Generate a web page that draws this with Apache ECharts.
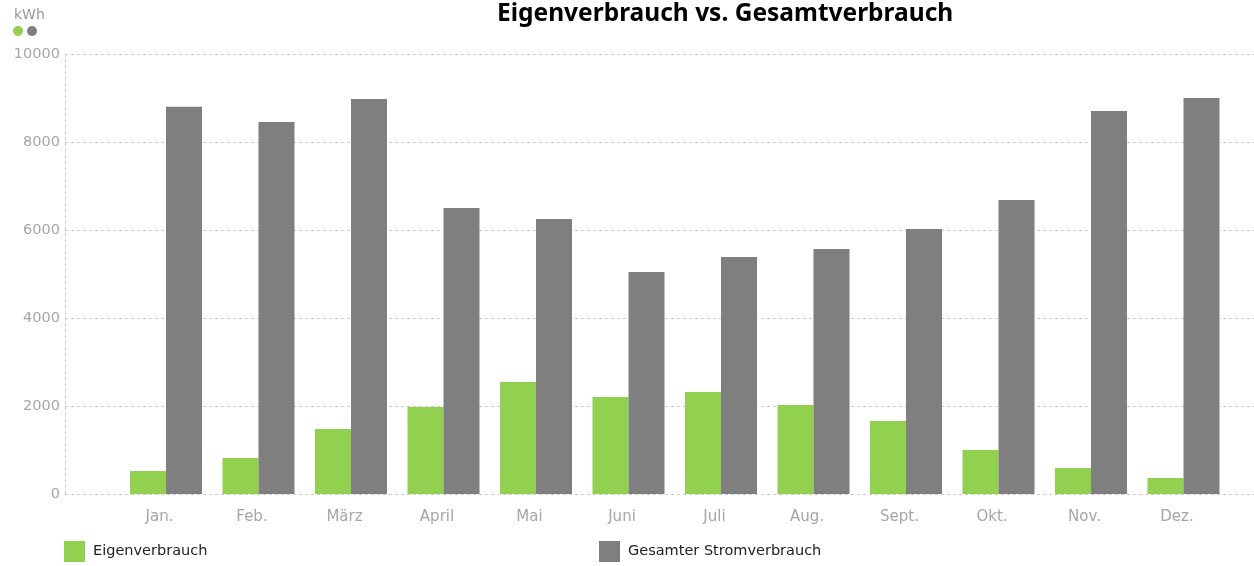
<!DOCTYPE html>
<html>
<head>
<meta charset="utf-8">
<script src="https://cdn.jsdelivr.net/npm/echarts@6/dist/echarts.min.js"></script>
<style>html,body{margin:0;padding:0;background:#fff;}#c{width:1254px;height:566px;}</style>
</head>
<body>
<div id="c"></div>
<script>
var months = ['Jan.', 'Feb.', 'März', 'April', 'Mai', 'Juni', 'Juli', 'Aug.', 'Sept.', 'Okt.', 'Nov.', 'Dez.'];
var eigenverbrauch = [520, 820, 1480, 1980, 2545, 2205, 2320, 2025, 1660, 1000, 590, 365];
var gesamtverbrauch = [8800, 8455, 8980, 6500, 6250, 5045, 5385, 5570, 6025, 6680, 8705, 9000];
var yTicks = [0, 2000, 4000, 6000, 8000, 10000];

var GREEN = '#92d050', GRAY = '#7f7f7f';
var chart = echarts.init(document.getElementById('c'), null, {renderer: 'canvas'});
var font = '"DejaVu Sans", Verdana, sans-serif';
var titleFont = '"Noto Sans", "DejaVu Sans", sans-serif';
chart.setOption({
  animation: false,
  textStyle: {fontFamily: font},
  title: {
    text: 'Eigenverbrauch vs. Gesamtverbrauch',
    left: 497, top: 2, padding: 0,
    textStyle: {fontSize: 24.5, fontWeight: 'bold', color: '#000', fontFamily: titleFont}
  },
  legend: [
    {data: ['Eigenverbrauch'], left: 64, top: 541, padding: 0, itemWidth: 21, itemHeight: 21, itemGap: 0,
     textStyle: {fontSize: 14.5, color: '#222', fontFamily: font, padding: [2, 0, 0, 3]}, icon: 'rect'},
    {data: ['Gesamter Stromverbrauch'], left: 599, top: 541, padding: 0, itemWidth: 21, itemHeight: 21, itemGap: 0,
     textStyle: {fontSize: 14.5, color: '#222', fontFamily: font, padding: [2, 0, 0, 3]}, icon: 'rect'}
  ],
  graphic: [
    {type: 'text', left: 14, top: 8, style: {text: 'kWh', fontSize: 14, fill: '#999', fontFamily: font}},
    {type: 'circle', shape: {cx: 18, cy: 31, r: 5}, style: {fill: GREEN}},
    {type: 'circle', shape: {cx: 32, cy: 31, r: 5}, style: {fill: GRAY}}
  ],
  grid: [
    {left: 65, right: 0, top: 54, bottom: 72},
    {left: 119.75, width: 1110, top: 54, bottom: 72}
  ],
  xAxis: [
    {gridIndex: 0, type: 'value', min: 0, max: 1, show: true,
     axisLine: {show: false}, axisTick: {show: false}, axisLabel: {show: false}, splitLine: {show: false}},
    {gridIndex: 1, type: 'category', data: months,
     axisLine: {show: false}, axisTick: {show: false},
     axisLabel: {fontSize: 15, color: '#a6a6a6', margin: 16, padding: [0, 13, 0, 0]}}
  ],
  yAxis: [
    {gridIndex: 0, type: 'value', min: yTicks[0], max: yTicks[yTicks.length - 1], interval: 2000,
     axisLine: {show: true, lineStyle: {color: '#ccc', type: [3, 3], width: 1}},
     axisTick: {show: false},
     axisLabel: {fontSize: 14.5, color: '#a6a6a6', margin: 5, formatter: function (v) { return String(v); }},
     splitLine: {show: true, lineStyle: {color: '#ccc', type: [3, 3], width: 1}}},
    {gridIndex: 1, type: 'value', min: 0, max: 10000, show: false, splitLine: {show: false}}
  ],
  series: [
    {name: 'Eigenverbrauch', type: 'bar', xAxisIndex: 1, yAxisIndex: 1, data: eigenverbrauch,
     barWidth: 36, barGap: '0%', itemStyle: {color: GREEN}},
    {name: 'Gesamter Stromverbrauch', type: 'bar', xAxisIndex: 1, yAxisIndex: 1, data: gesamtverbrauch,
     barWidth: 36, barGap: '0%', itemStyle: {color: GRAY}}
  ]
});
</script>
</body>
</html>
